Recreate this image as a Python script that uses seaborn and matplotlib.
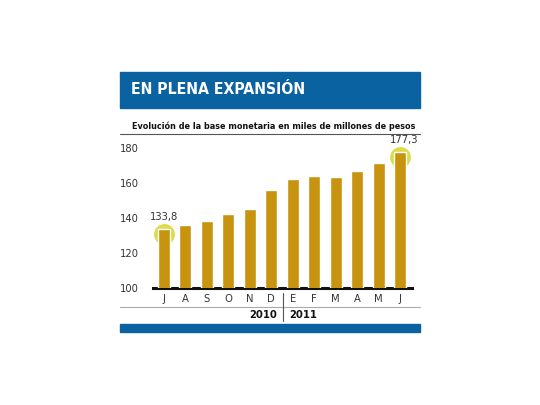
import matplotlib
matplotlib.use('Agg')
import matplotlib.pyplot as plt
import seaborn as sb
import pandas as pd
from matplotlib.patches import Rectangle

months = ['J', 'A', 'S', 'O', 'N', 'D', 'E', 'F', 'M', 'A', 'M', 'J']
values = [133.8, 135.6, 137.9, 142.3, 145.1, 156.0, 162.3, 164.0, 163.4, 166.9, 171.4, 177.3]
years = ['2010', '2011']
yticks = [100, 120, 140, 160, 180]
title = 'EN PLENA EXPANSIÓN'
subtitle = 'Evolución de la base monetaria en miles de millones de pesos'

blue = '#0a62a0'
gold = '#c8940f'

df = pd.DataFrame({'pos': [f'm{i}' for i in range(len(months))], 'valor': values})

sb.set_style('white')
plt.rcParams['font.family'] = ['DejaVu Sans']
plt.rcParams['font.stretch'] = 'condensed'

W, H = 540, 405
fig = plt.figure(figsize=(W / 100, H / 100), dpi=100)


def fx(px):
    return px / W


def fy(py):
    return 1 - py / H


# header band
fig.patches.append(Rectangle((fx(120), fy(108)), fx(300), (108 - 72) / H,
                             transform=fig.transFigure, color=blue, zorder=0))
fig.text(fx(131), fy(90), title, color='white', fontsize=11.3, fontweight='bold',
         fontstretch='condensed', va='center', ha='left')
fig.text(fx(132), fy(126), subtitle, color='#111111', fontsize=6.5, fontweight='bold',
         fontstretch='condensed', va='center', ha='left')
fig.add_artist(plt.Line2D([fx(120), fx(420)], [fy(133.5), fy(133.5)], color='#555555', lw=0.8))

ax = fig.add_axes([fx(153), fy(288), fx(412 - 153), (288 - 144) / H])
sb.barplot(data=df, x='pos', y='valor', color=gold, width=0.56, saturation=1, ax=ax, zorder=3)
ax.set_xlim(-0.5, 11.55)
ax.set_ylim(100, 182)

# highlighted first/last points
for i in [0, len(values) - 1]:
    ax.scatter(i, values[i] - 2.9, s=225, color='#d6d62a', alpha=0.85, zorder=2, linewidths=0)
ax.text(0.0, values[0] + 6.8, '133,8', ha='center', va='center',
        fontsize=8, color='#333333')
ax.text(11.2, 178 + 6.2, '177,3', ha='center', va='center', fontsize=8, color='#333333')

for s in ['top', 'right', 'left']:
    ax.spines[s].set_visible(False)
ax.spines['bottom'].set_linewidth(2.2)
ax.spines['bottom'].set_color('#111111')
ax.set_xlabel('')
ax.set_ylabel('')
ax.set_xticks(range(len(months)))
ax.set_xticklabels(months, fontsize=8, color='#333333')
ax.set_yticks(yticks)
ax.set_yticklabels([str(t) for t in yticks], fontsize=8, color='#333333')
ax.tick_params(axis='both', length=0, pad=4)
ax.tick_params(axis='y', pad=10)
ax.patch.set_alpha(0)

# year strip
fig.add_artist(plt.Line2D([fx(120), fx(420)], [fy(306.5), fy(306.5)], color='#aaaaaa', lw=0.8))
fig.add_artist(plt.Line2D([fx(282.5), fx(282.5)], [fy(293), fy(321)], color='#555555', lw=0.8))
fig.text(fx(277), fy(315), years[0], ha='right', va='center', fontsize=8,
         fontweight='bold', color='#111111')
fig.text(fx(289), fy(315), years[1], ha='left', va='center', fontsize=8,
         fontweight='bold', color='#111111')

fig.patches.append(Rectangle((fx(120), fy(332)), fx(300), 8 / H,
                             transform=fig.transFigure, color=blue, zorder=0))

fig.savefig('out.png', dpi=100, facecolor='white')
